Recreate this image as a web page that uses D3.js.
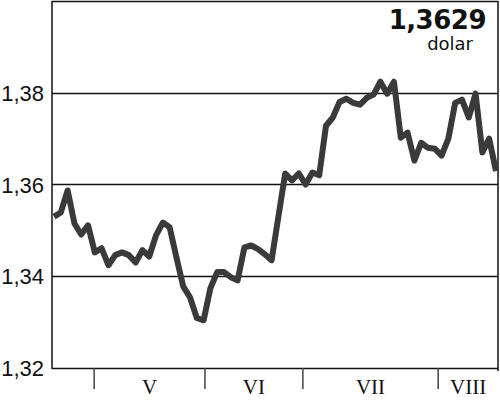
<!DOCTYPE html>
<html>
<head>
<meta charset="utf-8">
<script src="https://cdnjs.cloudflare.com/ajax/libs/d3/7.8.5/d3.min.js"></script>
<style>
  body { margin: 0; background: #fff; }
  svg { display: block; }
</style>
</head>
<body>
<div id="chart"></div>
<script>
// kurs dolara - notowania dzienne
var rates = [
  1.3530, 1.3539, 1.3587, 1.3515, 1.3491, 1.3511, 1.3452, 1.3461, 1.3424, 1.3446,
  1.3452, 1.3446, 1.3430, 1.3457, 1.3443, 1.3489, 1.3517, 1.3507, 1.3441, 1.3378,
  1.3354, 1.3309, 1.3304, 1.3374, 1.3409, 1.3409, 1.3398, 1.3391, 1.3463, 1.3467,
  1.3459, 1.3448, 1.3435, 1.3530, 1.3624, 1.3609, 1.3624, 1.3600, 1.3626, 1.3620,
  1.3728, 1.3746, 1.3780, 1.3787, 1.3778, 1.3774, 1.3789, 1.3796, 1.3824, 1.3798,
  1.3824, 1.3702, 1.3713, 1.3652, 1.3691, 1.3680, 1.3678, 1.3663, 1.3700, 1.3778,
  1.3785, 1.3746, 1.3798, 1.3670, 1.3700, 1.3629
];

// granice miesiecy (w indeksach notowan) i ich nazwy
var monthBreaks = [5.9, 22.2, 36.6, 56.5];
var monthLabels = ["V", "VI", "VII", "VIII"];

var yTicks = [1.32, 1.34, 1.36, 1.38];
var lastValue = "1,3629";
var unit = "dolar";

var width = 500, height = 400;
var plotLeft = 52, plotRight = 498, plotTop = 1, plotBottom = 368;

var svg = d3.select("#chart").append("svg")
    .attr("width", width)
    .attr("height", height);

var x = d3.scaleLinear()
    .domain([-0.3, 65.3])
    .range([plotLeft, plotRight]);

var y = d3.scaleLinear()
    .domain([1.32, 1.40])
    .range([plotBottom, plotTop]);

// linie siatki
svg.selectAll("line.grid")
    .data(yTicks.concat([1.40]))
    .enter()
    .append("line")
    .attr("class", "grid")
    .attr("x1", plotLeft)
    .attr("x2", plotRight)
    .attr("y1", function (d) { return Math.round(y(d)) + 0.5; })
    .attr("y2", function (d) { return Math.round(y(d)) + 0.5; })
    .style("stroke", "#111")
    .style("stroke-width", 1.5);

// ramka boczna
svg.append("line")
    .attr("x1", plotLeft).attr("x2", plotLeft)
    .attr("y1", plotTop).attr("y2", plotBottom + 1)
    .style("stroke", "#111").style("stroke-width", 1.5);
svg.append("line")
    .attr("x1", plotRight).attr("x2", plotRight)
    .attr("y1", plotTop).attr("y2", plotBottom + 3)
    .style("stroke", "#111").style("stroke-width", 1.5);

// etykiety osi y
svg.selectAll("text.ylab")
    .data(yTicks)
    .enter()
    .append("text")
    .attr("class", "ylab")
    .attr("x", 44)
    .attr("y", function (d) { return y(d) + 8; })
    .attr("text-anchor", "end")
    .style("font-family", "'Liberation Sans', Arial, sans-serif")
    .style("font-size", "22px")
    .style("fill", "#111")
    .text(function (d) { return d3.format(".2f")(d).replace(".", ","); });

// znaczniki miesiecy
svg.selectAll("line.mtick")
    .data(monthBreaks)
    .enter()
    .append("line")
    .attr("class", "mtick")
    .attr("x1", function (d) { return x(d); })
    .attr("x2", function (d) { return x(d); })
    .attr("y1", plotBottom)
    .attr("y2", plotBottom + 21)
    .style("stroke", "#444")
    .style("stroke-width", 1.5);

var ends = monthBreaks.concat([x.domain()[1]]);
svg.selectAll("text.mlab")
    .data(monthLabels)
    .enter()
    .append("text")
    .attr("class", "mlab")
    .attr("x", function (d, i) { return x((ends[i] + ends[i + 1]) / 2); })
    .attr("y", 394)
    .attr("text-anchor", "middle")
    .style("font-family", "'Liberation Serif', 'DejaVu Serif', serif")
    .style("font-size", "21px")
    .style("fill", "#111")
    .text(function (d) { return d; });

// linia kursu
var line = d3.line()
    .x(function (d, i) { return x(i); })
    .y(function (d) { return y(d); });

svg.append("path")
    .datum(rates)
    .attr("d", line)
    .style("fill", "none")
    .style("stroke", "#3a3a3a")
    .style("stroke-width", 6)
    .style("stroke-linejoin", "round")
    .style("stroke-linecap", "butt");

// ostatni kurs
svg.append("text")
    .attr("x", 486)
    .attr("y", 29)
    .attr("text-anchor", "end")
    .style("font-family", "'DejaVu Sans', sans-serif")
    .style("font-weight", "bold")
    .style("font-size", "26px")
    .style("letter-spacing", "-0.5px")
    .style("fill", "#111")
    .text(lastValue);

svg.append("text")
    .attr("x", 473)
    .attr("y", 50)
    .attr("text-anchor", "end")
    .style("font-family", "'DejaVu Sans', sans-serif")
    .style("font-size", "18px")
    .style("fill", "#111")
    .text(unit);
</script>
</body>
</html>
